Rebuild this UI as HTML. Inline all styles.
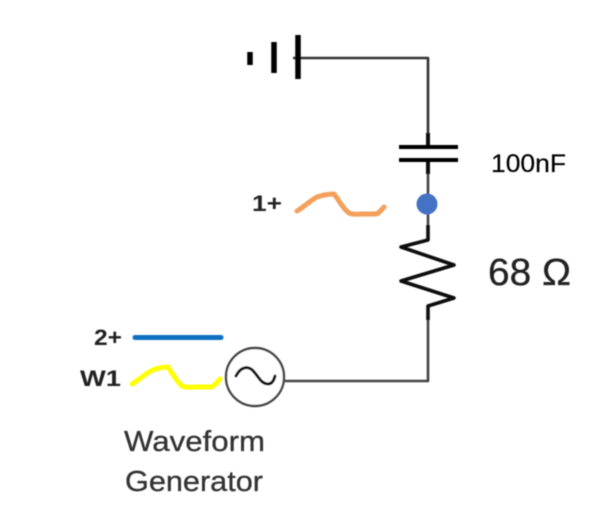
<!DOCTYPE html>
<html>
<head>
<meta charset="utf-8">
<style>
html,body{margin:0;padding:0;background:#fff;}
svg{display:block;}
text{font-family:"Liberation Sans",sans-serif;}
</style>
</head>
<body>
<svg width="614" height="524" viewBox="0 0 614 524" xmlns="http://www.w3.org/2000/svg">
<defs><filter id="b" x="-5%" y="-5%" width="110%" height="110%"><feGaussianBlur stdDeviation="0.6"/></filter></defs>
<rect width="614" height="524" fill="#fff"/>
<g filter="url(#b)" fill="none" stroke-linejoin="round">
  <!-- wires -->
  <path d="M293 58H428V133" stroke="#333" stroke-width="2.6"/>
  <path d="M428 133V147M428 160V174" stroke="#111" stroke-width="4"/>
  <path d="M428 174V225M428 320V381H285" stroke="#444" stroke-width="2.6"/>
  <!-- battery -->
  <path d="M250 52V65" stroke="#000" stroke-width="5.5"/>
  <path d="M274 42V73" stroke="#000" stroke-width="5.5"/>
  <path d="M298 35V79" stroke="#000" stroke-width="5.5"/>
  <!-- capacitor -->
  <path d="M399 147H458M399 160H458" stroke="#000" stroke-width="4"/>
  <!-- resistor -->
  <path d="M428 225V240L401 247L454 265L401 281L454 298L428 306V320" stroke="#111" stroke-width="3.6"/>
  <!-- node -->
  <circle cx="427" cy="204" r="10.5" fill="#4472c4"/>
  <!-- source -->
  <circle cx="255" cy="377" r="29" fill="#fff" stroke="#444" stroke-width="2.4"/>
  <path d="M236 376C240 368 246 366 251 369C257 373 260 384 268 384C272 384 274 380 275 376" stroke="#111" stroke-width="3" stroke-linecap="round"/>
  <!-- traces -->
  <path d="M297 211C304 207 311 200 317 197C323 195 329 194 334 194C339 200 343 209 349 213C353 215 358 214 363 214L375 214C379 214 381 210 384 207" stroke="#f4a05c" stroke-width="5" stroke-linecap="round"/>
  <path d="M132 384C139 380 146 373 153 370C158 368 163 367 168 367C172 373 177 382 182 386C186 388 192 387 197 387L210 387C214 387 217 382 220 379" stroke="#ffff00" stroke-width="5" stroke-linecap="round"/>
  <path d="M135 337.5H221" stroke="#0f70c0" stroke-width="5" stroke-linecap="round"/>
</g>
<g filter="url(#b)">
  <text x="252" y="211" font-size="22" font-weight="bold" fill="#222" textLength="30" lengthAdjust="spacingAndGlyphs">1+</text>
  <text x="94" y="345" font-size="22" font-weight="bold" fill="#222" textLength="28" lengthAdjust="spacingAndGlyphs">2+</text>
  <text x="80" y="386" font-size="22" font-weight="bold" fill="#222" textLength="41" lengthAdjust="spacingAndGlyphs">W1</text>
  <text x="124" y="451" font-size="29" fill="#333" stroke="#333" stroke-width="0.3" textLength="141" lengthAdjust="spacingAndGlyphs">Waveform</text>
  <text x="125" y="491" font-size="29" fill="#333" stroke="#333" stroke-width="0.3" textLength="138" lengthAdjust="spacingAndGlyphs">Generator</text>
  <text x="491" y="172" font-size="25" fill="#000" stroke="#000" stroke-width="0.2" textLength="75" lengthAdjust="spacingAndGlyphs">100nF</text>
  <text x="488" y="285" font-size="38" fill="#222" stroke="#222" stroke-width="0.3" textLength="83" lengthAdjust="spacingAndGlyphs">68 Ω</text>
</g>
</svg>
</body>
</html>
